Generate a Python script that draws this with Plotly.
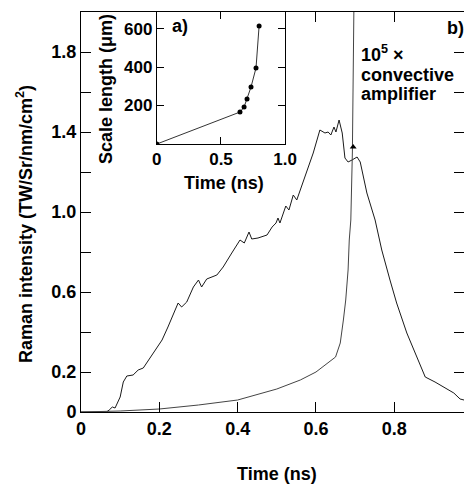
import plotly.graph_objects as go

# main panel b): Raman intensity vs time
raman_t = [0, 0.065, 0.072, 0.08, 0.087, 0.1, 0.108, 0.117, 0.133, 0.146, 0.159, 0.176, 0.189,
           0.207, 0.222, 0.235, 0.248, 0.257, 0.27, 0.287, 0.3, 0.308, 0.321, 0.347, 0.363, 0.385,
           0.406, 0.417, 0.429, 0.436, 0.452, 0.475, 0.488, 0.498, 0.503, 0.508, 0.516, 0.523,
           0.531, 0.542, 0.551, 0.56, 0.577, 0.593, 0.61, 0.623, 0.631, 0.638, 0.646, 0.651,
           0.659, 0.667, 0.674, 0.682, 0.692, 0.705, 0.713, 0.73, 0.751, 0.768, 0.789, 0.806,
           0.832, 0.857, 0.879, 0.904, 0.93, 0.952, 0.968, 0.978]
raman_i = [0, 0, 0.01, 0.025, 0.02, 0.075, 0.15, 0.18, 0.185, 0.21, 0.22, 0.27, 0.31,
           0.36, 0.425, 0.485, 0.545, 0.525, 0.55, 0.625, 0.66, 0.625, 0.665, 0.685, 0.725, 0.795,
           0.86, 0.845, 0.9, 0.865, 0.87, 0.885, 0.925, 0.945, 0.97, 0.945, 0.995, 1.03,
           1.01, 1.085, 1.06, 1.11, 1.195, 1.295, 1.41, 1.395, 1.4, 1.385, 1.425, 1.4,
           1.46, 1.395, 1.27, 1.25, 1.26, 1.275, 1.25, 1.095, 0.96, 0.81, 0.66, 0.545,
           0.395, 0.275, 0.175, 0.15, 0.12, 0.095, 0.065, 0.06]

# 10^5 x convective amplifier
conv_t = [0, 0.1, 0.2, 0.3, 0.4, 0.5, 0.56, 0.6, 0.65, 0.662, 0.67, 0.676, 0.682, 0.685, 0.689, 0.693, 0.697]
conv_i = [0, 0.005, 0.015, 0.035, 0.06, 0.115, 0.16, 0.2, 0.275, 0.345, 0.46, 0.56, 0.71, 0.86, 0.96, 1.3, 2.05]
arrow_t = [0.695]
arrow_i = [1.325]

# inset a): scale length vs time
scale_t = [0, 0.648, 0.68, 0.703, 0.734, 0.773, 0.797]
scale_l = [0, 166, 192, 234, 296, 395, 613]

main_xticks = [0, 0.2, 0.4, 0.6, 0.8]
main_xtext = ['0', '0.2', '0.4', '0.6', '0.8']
main_yticks = [0, 0.2, 0.6, 1.0, 1.4, 1.8]
main_ytext = ['0', '0.2', '0.6', '1.0', '1.4', '1.8']
main_yminor = [0.4, 0.8, 1.2, 1.6]
inset_xticks = [0, 0.5, 1.0]
inset_xtext = ['0', '0.5', '1.0']
inset_yticks = [200, 400, 600]
inset_ytext = ['200', '400', '600']

FONT = 'Liberation Sans'

fig = go.Figure()
fig.add_trace(go.Scatter(x=raman_t, y=raman_i, mode='lines', line=dict(color='#1a1a1a', width=1)))
fig.add_trace(go.Scatter(x=conv_t, y=conv_i, mode='lines', line=dict(color='#444444', width=1)))
fig.add_trace(go.Scatter(x=arrow_t, y=arrow_i, mode='markers',
                         marker=dict(symbol='triangle-up', size=6, color='black')))
fig.add_trace(go.Scatter(x=scale_t, y=scale_l, mode='lines+markers', xaxis='x2', yaxis='y2',
                         line=dict(color='#333333', width=1),
                         marker=dict(color='black', size=5)))

tickfont = dict(family=FONT, size=18, color='black', weight=700)
inset_font = dict(family=FONT, size=17, color='black', weight=700)
axis_common = dict(showline=True, linecolor='black', linewidth=1, ticks='inside',
                   tickcolor='black', showgrid=False, zeroline=False, automargin=False)

fig.update_layout(
    template='none',
    width=464, height=487,
    margin=dict(l=81, r=0, t=12, b=75),
    plot_bgcolor='white', paper_bgcolor='white',
    showlegend=False,
    xaxis=dict(range=[0, 0.978], tickvals=main_xticks, ticktext=main_xtext, ticklen=10,
               mirror='ticks', tickfont=tickfont, **axis_common),
    yaxis=dict(range=[0, 2.0], tickvals=main_yticks, ticktext=main_ytext, ticklen=10,
               minor=dict(tickvals=main_yminor, ticks='inside', ticklen=10, tickcolor='black'),
               mirror='ticks', tickfont=tickfont, **axis_common),
    xaxis2=dict(domain=[0.198, 0.533], anchor='y2', range=[0, 1.0], tickvals=inset_xticks,
                ticktext=inset_xtext, ticklen=7, mirror='ticks', tickfont=inset_font, **axis_common),
    yaxis2=dict(domain=[0.67, 1.0], anchor='x2', range=[0, 686], tickvals=inset_yticks,
                ticktext=inset_ytext, ticklen=7, mirror='ticks', tickfont=inset_font, **axis_common),
)

txt = dict(family=FONT, size=18, color='black')
annots = [
    dict(text='<b>Time (ns)</b>', x=(277 - 81) / 383, y=(412 - 474) / 400),
    dict(text='<b>Raman intensity (TW/Sr/nm/cm<sup>2</sup>)</b>', x=(24 - 81) / 383, y=(412 - 224) / 400,
         textangle=-90),
    dict(text='<b>Scale length (\u03bcm)</b>', x=(106 - 81) / 383, y=(412 - 89) / 400, textangle=-90),
    dict(text='<b>Time (ns)</b>', x=(224 - 81) / 383, y=(412 - 183) / 400),
    dict(text='<b>a)</b>', x=(180 - 81) / 383, y=(412 - 26) / 400),
    dict(text='<b>b)</b>', x=(455 - 81) / 383, y=(412 - 28) / 400),
]
for a in annots:
    fig.add_annotation(xref='paper', yref='paper', showarrow=False, font=txt,
                       xanchor='center', yanchor='middle', **a)

for label, cy in [('<b>10<sup>5</sup> \u00d7</b>', 54), ('<b>convective</b>', 75), ('<b>amplifier</b>', 94)]:
    fig.add_annotation(xref='paper', yref='paper', showarrow=False, font=txt, text=label,
                       x=(359 - 81) / 383, y=(412 - cy) / 400, xanchor='left', yanchor='middle')

# drop the default page margin so the 464x487 figure fills the window exactly
fig.write_html("out.html", config={'displayModeBar': False},
               post_script="document.body.style.margin='0';document.body.style.overflow='hidden';")
